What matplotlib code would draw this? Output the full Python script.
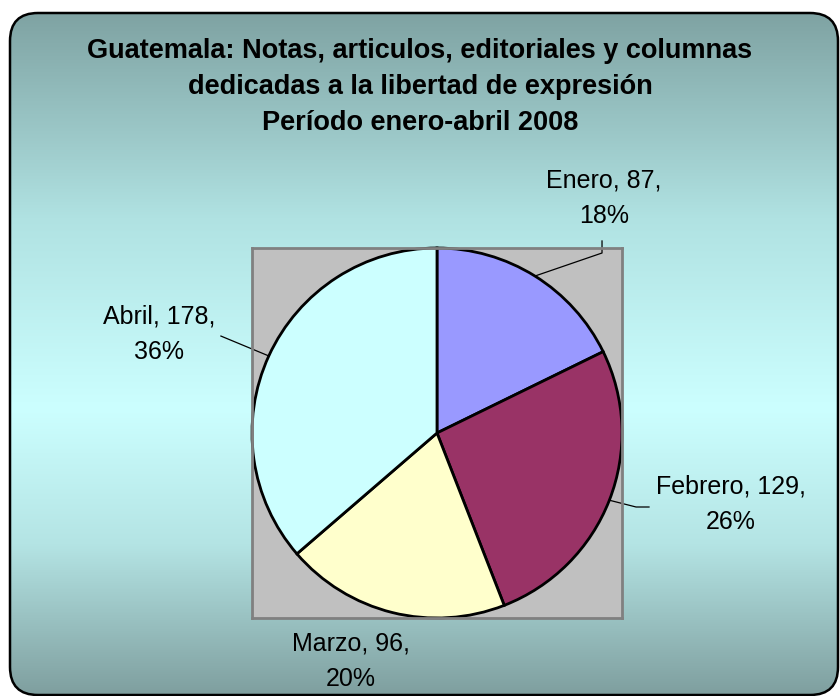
import numpy as np
import matplotlib
matplotlib.use("Agg")
from matplotlib import pyplot as plt
from matplotlib.patches import FancyBboxPatch
from matplotlib.colors import LinearSegmentedColormap

plt.rcParams['font.family'] = ['Liberation Sans', 'DejaVu Sans']

# data
months = ['Enero', 'Febrero', 'Marzo', 'Abril']
counts = [87, 129, 96, 178]
colors = ['#9999ff', '#993366', '#ffffcc', '#ccffff']
title = ('Guatemala: Notas, articulos, editoriales y columnas\n'
         'dedicadas a la libertad de expresión\n'
         'Período enero-abril 2008')

W, H = 840, 696
fig = plt.figure(figsize=(W / 100, H / 100), dpi=100)
fig.patch.set_facecolor('white')

# background panel with vertical gradient, clipped to a rounded box
bg = fig.add_axes([0, 0, 1, 1])
bg.set_xlim(0, W)
bg.set_ylim(H, 0)
bg.axis('off')
grad_cmap = LinearSegmentedColormap.from_list(
    'bg', [(0, '#7fa3a3'), (0.3, '#b0e2e2'), (0.58, '#ccffff'), (0.78, '#b4e4e4'), (1, '#7f9f9f')])
grad = np.linspace(0, 1, 256).reshape(-1, 1)
img = bg.imshow(grad, cmap=grad_cmap, extent=[10, 838, 695, 13], aspect='auto', zorder=0)
box = FancyBboxPatch((10, 13), 828, 682, boxstyle='round,pad=0,rounding_size=28',
                     facecolor='none', edgecolor='black', linewidth=1.8, zorder=2)
bg.add_patch(box)
img.set_clip_path(box)

bg.text(W / 2, 87, title, ha='center', va='center', fontsize=19.5, fontweight='bold',
        linespacing=1.5, color='black')

# pie plot area (gray square)
ax = fig.add_axes([252 / W, (H - 618) / H, 370 / W, 370 / H])
wedges, _ = ax.pie(counts, colors=colors, startangle=90, counterclock=False, radius=1,
                   frame=True, wedgeprops=dict(edgecolor='black', linewidth=2))
ax.set_facecolor('#c0c0c0')
for s in ax.spines.values():
    s.set_edgecolor('#808080')
    s.set_linewidth(2)
ax.set_xticks([])
ax.set_yticks([])
ax.set_xlim(-1, 1)
ax.set_ylim(-1, 1)
ax.set_aspect('equal')

total = sum(counts)
# label centres and leader line elbows (axes data units)
label_pos = [(0.903, 1.268), (1.589, -0.384), (-0.465, -1.235), (-1.503, 0.535)]
elbows = [[(0.892, 0.973), (0.892, 1.038)], [(1.076, -0.40), (1.146, -0.40)], None,
          [(-1.168, 0.524)]]

for w, m, c, lp, el in zip(wedges, months, counts, label_pos, elbows):
    ang = np.deg2rad((w.theta1 + w.theta2) / 2)
    pt = (np.cos(ang), np.sin(ang))
    pct = round(100 * c / total)
    ax.text(lp[0], lp[1], f'{m}, {c},\n{pct}%', ha='center', va='center', fontsize=18,
            linespacing=1.6, clip_on=False)
    if el:
        xs = [pt[0]] + [e[0] for e in el]
        ys = [pt[1]] + [e[1] for e in el]
        ax.plot(xs, ys, color='black', linewidth=0.9, clip_on=False)

fig.savefig('out.png', dpi=100)
